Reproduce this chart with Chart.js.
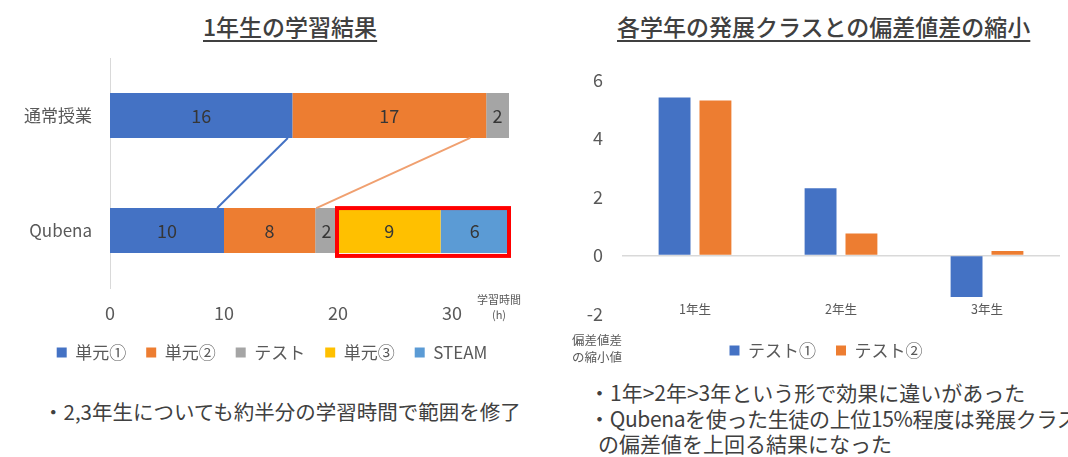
<!DOCTYPE html>
<html><head><meta charset="utf-8">
<script src="https://cdn.jsdelivr.net/npm/chart.js@4.4.0/dist/chart.umd.min.js"></script>
<style>
html,body{margin:0;padding:0;background:#fff;width:1068px;height:457px;overflow:hidden;font-family:"Noto Sans CJK JP","Noto Sans",sans-serif;color:#404040}
.abs{position:absolute;white-space:nowrap;line-height:1}
.title{font-size:23px;font-weight:500;text-decoration:underline;text-decoration-thickness:2px;text-underline-offset:4px;color:#404040}
.note{color:#404040}
.small{font-size:11px;color:#595959;text-align:center;line-height:1.4}
canvas{position:absolute}
</style></head><body>
<div class="abs title" style="left:203px;top:15px">1年生の学習結果</div>
<div class="abs title" style="left:617px;top:15px">各学年の発展クラスとの偏差値差の縮小</div>
<canvas id="c1" width="540" height="371" style="left:0;top:0"></canvas>
<canvas id="c2" width="508" height="369" style="left:560px;top:0"></canvas>
<div class="abs small" style="left:477px;top:292px">学習時間<br>(h)</div>
<div class="abs small" style="left:572px;top:332px;font-size:12.5px;line-height:1.35">偏差値差<br>の縮小値</div>
<div class="abs note" style="left:43px;top:401px;font-size:20.5px">・2,3年生についても約半分の学習時間で範囲を修了</div>
<div class="abs note" style="left:589px;top:379px;font-size:21px;line-height:26px">・1年&gt;2年&gt;3年という形で効果に違いがあった</div>
<div class="abs note" style="left:589px;top:405px;font-size:21px;line-height:26px;letter-spacing:-0.35px">・Qubenaを使った生徒の上位15%程度は発展クラス</div>
<div class="abs note" style="left:598px;top:430px;font-size:21px;line-height:26px">の偏差値を上回る結果になった</div>
<script>
// ---- Left chart data ----
const rowLabels = ['通常授業', 'Qubena'];
const unit1 = [16, 10];
const unit2 = [17, 8];
const testHours = [2, 2];
const unit3 = [null, 9];
const steam = [null, 6];
const hourTicks = [0, 10, 20, 30];
const connectFrom = [15.6, 31.6];
const connectTo = [9.4, 18.1];

// ---- Right chart data ----
const grades = ['1年生', '2年生', '3年生'];
const test1 = [5.4, 2.3, -1.42];
const test2 = [5.3, 0.75, 0.15];
const devTicks = [-2, 0, 2, 4, 6];

Chart.defaults.font.family = "'Noto Sans CJK JP','Noto Sans',sans-serif";
Chart.defaults.color = '#595959';

// let tick labels draw outside their scale box (no label clipping)
Chart.register({
  id: 'noLabelClip',
  beforeDraw(chart) {
    Object.values(chart.scales).forEach(s => { s._computeLabelArea = () => undefined; });
  }
});

const BLUE = '#4472C4', ORANGE = '#ED7D31', GREY = '#A5A5A5', YELLOW = '#FFC000', LBLUE = '#5B9BD5';

const barLabels = {
  id: 'barLabels',
  afterDatasetsDraw(chart) {
    const ctx = chart.ctx;
    ctx.save();
    ctx.font = "18px 'Noto Sans CJK JP','Noto Sans',sans-serif";
    ctx.fillStyle = '#363636';
    ctx.textAlign = 'center';
    ctx.textBaseline = 'middle';
    chart.data.datasets.forEach((ds, di) => {
      const meta = chart.getDatasetMeta(di);
      meta.data.forEach((el, i) => {
        const v = ds.data[i];
        if (v === null || v === undefined) return;
        ctx.fillText(String(v), (el.x + el.base) / 2, el.y + 1);
      });
    });
    ctx.restore();
  }
};

const connectors = {
  id: 'connectors',
  afterDatasetsDraw(chart) {
    const ctx = chart.ctx, x = chart.scales.x;
    const m = chart.getDatasetMeta(0);
    const a = m.data[0], b = m.data[1];
    const y1 = a.y + a.height / 2, y2 = b.y - b.height / 2;
    const cols = [BLUE, '#F0A070'];
    ctx.save();
    ctx.lineWidth = 2;
    cols.forEach((c, i) => {
      ctx.strokeStyle = c;
      ctx.beginPath();
      ctx.moveTo(x.getPixelForValue(connectFrom[i]), y1);
      ctx.lineTo(x.getPixelForValue(connectTo[i]), y2);
      ctx.stroke();
    });
    // highlight box around 単元③ + STEAM on Qubena row
    const e3 = chart.getDatasetMeta(3).data[1];
    const e4 = chart.getDatasetMeta(4).data[1];
    const left = e3.base, right = e4.x;
    const top = e3.y - e3.height / 2, h = e3.height;
    ctx.strokeStyle = '#FF0000';
    ctx.lineWidth = 4;
    ctx.strokeRect(left - 1, top, right - left + 1, h + 3);
    ctx.restore();
  }
};

new Chart(document.getElementById('c1'), {
  type: 'bar',
  data: {
    labels: rowLabels,
    datasets: [
      { label: '単元①', data: unit1, backgroundColor: BLUE },
      { label: '単元②', data: unit2, backgroundColor: ORANGE },
      { label: 'テスト', data: testHours, backgroundColor: GREY },
      { label: '単元③', data: unit3, backgroundColor: YELLOW },
      { label: 'STEAM', data: steam, backgroundColor: LBLUE }
    ]
  },
  options: {
    indexAxis: 'y',
    responsive: false,
    animation: false,
    devicePixelRatio: 1,
    categoryPercentage: 0.39,
    barPercentage: 1,
    layout: { padding: { left: 35, right: 31, top: 58, bottom: 0 } },
    scales: {
      x: {
        stacked: true, min: 0, max: 35,
        afterBuildTicks: s => { s.ticks = hourTicks.map(v => ({ value: v })); },
        ticks: { color: '#595959', font: { size: 18 }, padding: 14 },
        grid: { display: false, drawTicks: false },
        border: { display: false },
        afterFit: s => { s.height = 36; }
      },
      y: {
        stacked: true,
        ticks: { color: '#595959', font: { size: 17 }, padding: 18 },
        grid: { display: false, drawTicks: false },
        border: { display: true, color: '#D9D9D9', width: 1 },
        afterFit: s => { s.width = 75; }
      }
    },
    plugins: {
      legend: {
        position: 'bottom',
        labels: { boxWidth: 10, boxHeight: 10, padding: 20, color: '#595959', font: { size: 17 } }
      },
      tooltip: { enabled: false }
    }
  },
  plugins: [connectors, barLabels]
});

new Chart(document.getElementById('c2'), {
  type: 'bar',
  data: {
    labels: grades,
    datasets: [
      { label: 'テスト①', data: test1, backgroundColor: BLUE },
      { label: 'テスト②', data: test2, backgroundColor: ORANGE }
    ]
  },
  options: {
    responsive: false,
    animation: false,
    devicePixelRatio: 1,
    categoryPercentage: 0.56,
    barPercentage: 0.78,
    layout: { padding: { left: 32, right: 8, top: 80, bottom: 0 } },
    scales: {
      x: {
        ticks: { color: '#595959', font: { size: 12.5 }, padding: -12 },
        grid: { display: false, drawTicks: false },
        border: { display: false },
        afterFit: s => { s.height = 8; }
      },
      y: {
        min: -2, max: 6,
        afterBuildTicks: s => { s.ticks = devTicks.map(v => ({ value: v })); },
        ticks: { color: '#595959', font: { size: 18 }, padding: 19 },
        grid: {
          drawTicks: false,
          color: c => (c.tick && c.tick.value === 0) ? '#D9D9D9' : 'rgba(0,0,0,0)',
          lineWidth: 1.5
        },
        border: { display: false },
        afterFit: s => { s.width = 30; }
      }
    },
    plugins: {
      legend: {
        position: 'bottom',
        labels: { boxWidth: 10, boxHeight: 10, padding: 20, color: '#595959', font: { size: 17 } }
      },
      tooltip: { enabled: false }
    }
  }
});
</script>
</body></html>
